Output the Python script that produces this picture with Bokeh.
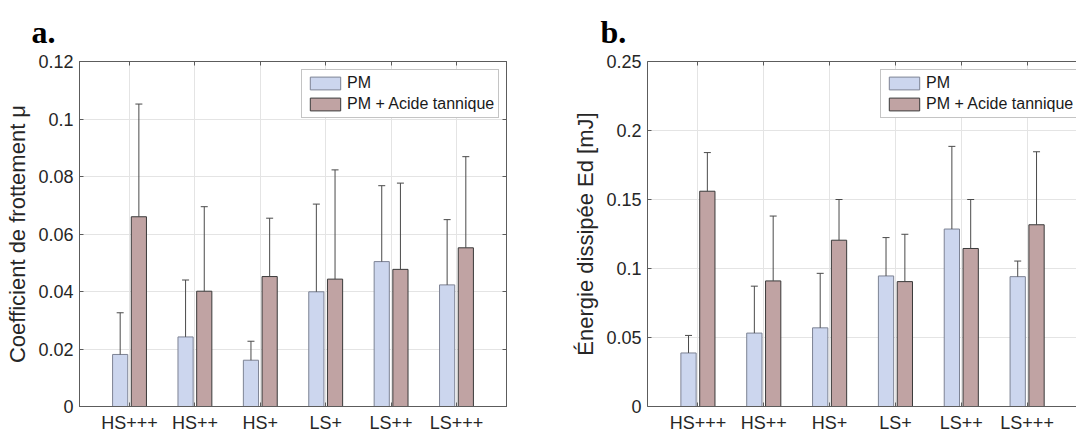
from bokeh.plotting import figure
from bokeh.layouts import row
from bokeh.models import (ColumnDataSource, Whisker, TeeHead, FixedTicker, LinearAxis,
                          Legend, LegendItem, Range1d)
from bokeh.embed import file_html
from bokeh.resources import INLINE

# ---------------- data ----------------
categories = ["HS+++", "HS++", "HS+", "LS+", "LS++", "LS+++"]
series_labels = ["PM", "PM + Acide tannique"]

# panel a: friction coefficient (bar value, top of error bar)
mu_pm = [0.0181, 0.0242, 0.0161, 0.0399, 0.0504, 0.0423]
mu_pm_top = [0.0326, 0.0440, 0.0227, 0.0704, 0.0768, 0.0650]
mu_at = [0.0660, 0.0401, 0.0452, 0.0443, 0.0477, 0.0552]
mu_at_top = [0.1052, 0.0695, 0.0655, 0.0823, 0.0777, 0.0869]

# panel b: dissipated energy (bar value, top of error bar)
ed_pm = [0.0388, 0.0532, 0.0570, 0.0946, 0.1286, 0.0941]
ed_pm_top = [0.0515, 0.0872, 0.0965, 0.1224, 0.1885, 0.1054]
ed_at = [0.1560, 0.0910, 0.1205, 0.0905, 0.1145, 0.1317]
ed_at_top = [0.1840, 0.1380, 0.1500, 0.1248, 0.1500, 0.1846]

mu_ticks = [0, 0.02, 0.04, 0.06, 0.08, 0.1, 0.12]
mu_tick_labels = ["0", "0.02", "0.04", "0.06", "0.08", "0.1", "0.12"]
ed_ticks = [0, 0.05, 0.1, 0.15, 0.2, 0.25]
ed_tick_labels = ["0", "0.05", "0.1", "0.15", "0.2", "0.25"]

# ---------------- style ----------------
FONT = "Liberation Sans"
TXT = "#262626"
AXC = "#5c5c5c"
GRID = "#e4e4e4"
BLUE = "#ccd6ee"
RED = "#c0a3a3"
BLUE_EDGE = "#7d8394"
RED_EDGE = "#3a3a3a"
ERR = "#4a4a4a"
OFF = 0.143
BW = 0.232
H = 435


def make_panel(letter, ylabel, pm, pm_top, at, at_top, ticks, tick_labels, ymax,
               xmin, xmax, width, b_left, b_right, legend_x, title_offset, boxed):
    xs = list(range(1, len(categories) + 1))
    src = ColumnDataSource(dict(
        x_pm=[x - OFF for x in xs], x_at=[x + OFF for x in xs],
        pm=pm, pm_top=pm_top, at=at, at_top=at_top))

    p = figure(width=width, height=H, x_range=Range1d(xmin, xmax), y_range=Range1d(0, ymax),
               output_backend="svg", toolbar_location=None,
               min_border_left=b_left, min_border_right=b_right,
               min_border_top=61, min_border_bottom=27)
    p.outline_line_color = AXC if boxed else None
    p.outline_line_width = 1
    p.background_fill_color = "white"
    p.border_fill_color = "white"

    xt = FixedTicker(ticks=xs)
    yt = FixedTicker(ticks=ticks)

    # axes
    p.xaxis.ticker = xt
    p.yaxis.ticker = yt
    p.xaxis.major_label_overrides = {x: c for x, c in zip(xs, categories)}
    p.yaxis.major_label_overrides = {t: l for t, l in zip(ticks, tick_labels)}
    for ax in (p.xaxis[0], p.yaxis[0]):
        ax.axis_line_color = AXC
        ax.major_tick_line_color = AXC
        ax.major_tick_in = 4
        ax.major_tick_out = 0
        ax.minor_tick_line_color = None
        ax.major_label_text_font = FONT
        ax.major_label_text_font_size = "18px"
        ax.major_label_text_color = TXT
    p.xaxis.major_label_standoff = 6
    p.yaxis.major_label_standoff = 6
    p.yaxis.axis_label = ylabel
    p.yaxis.axis_label_text_font = FONT
    p.yaxis.axis_label_text_font_size = "22px"
    p.yaxis.axis_label_text_font_style = "normal"
    p.yaxis.axis_label_text_color = TXT
    p.yaxis.axis_label_standoff = 5

    top = LinearAxis(ticker=xt, axis_line_color=AXC, major_tick_line_color=AXC,
                     major_tick_in=4, major_tick_out=0, minor_tick_line_color=None,
                     major_label_text_font_size="0px", major_label_standoff=0,
                     axis_label_standoff=0)
    top.major_label_overrides = {x: "" for x in xs}
    p.add_layout(top, "above")
    if boxed:
        rt = LinearAxis(ticker=yt, axis_line_color=AXC, major_tick_line_color=AXC,
                        major_tick_in=4, major_tick_out=0, minor_tick_line_color=None,
                        major_label_text_font_size="0px", major_label_standoff=0,
                        axis_label_standoff=0)
        rt.major_label_overrides = {t: "" for t in ticks}
        p.add_layout(rt, "right")

    # grid
    p.xgrid.ticker = xt
    p.ygrid.ticker = yt
    p.xgrid.grid_line_color = GRID
    p.ygrid.grid_line_color = GRID

    # bars
    r1 = p.vbar(x="x_pm", top="pm", width=BW, source=src, fill_color=BLUE,
                line_color=BLUE_EDGE, line_width=1)
    r2 = p.vbar(x="x_at", top="at", width=BW, source=src, fill_color=RED,
                line_color=RED_EDGE, line_width=1)

    # error bars (upper only)
    for base, lo, hi in (("x_pm", "pm", "pm_top"), ("x_at", "at", "at_top")):
        w = Whisker(source=src, base=base, lower=lo, upper=hi, dimension="height",
                    line_color=ERR, line_width=1, level="glyph",
                    upper_head=TeeHead(size=7, line_color=ERR, line_width=1),
                    lower_head=None)
        p.add_layout(w)

    # legend
    leg = Legend(items=[LegendItem(label=series_labels[0], renderers=[r1]),
                        LegendItem(label=series_labels[1], renderers=[r2])],
                 location=(legend_x, 288), orientation="vertical",
                 glyph_width=38, glyph_height=16, label_height=18, label_width=40,
                 label_standoff=3, spacing=3, padding=4, margin=0,
                 label_text_font=FONT, label_text_font_size="16px", label_text_color="#1a1a1a",
                 border_line_color="#8a8a8a", border_line_width=1,
                 background_fill_color="white", background_fill_alpha=1.0)
    p.add_layout(leg, "center")

    # panel letter
    p.title.text = letter
    p.title.text_font = "Liberation Serif"
    p.title.text_font_style = "bold"
    p.title.text_font_size = "32px"
    p.title.text_line_height = 0.8
    p.title.text_color = "black"
    p.title.align = "left"
    p.title.offset = title_offset
    p.title.standoff = 23
    return p


pa = make_panel("a.", "Coefficient de frottement \u03bc", mu_pm, mu_pm_top, mu_at, mu_at_top,
                mu_ticks, mu_tick_labels, 0.12, 0.235, 6.765, 540, 79, 34, 222, -48, True)
pb = make_panel("b.", "\u00c9nergie dissip\u00e9e Ed [mJ]", ed_pm, ed_pm_top, ed_at, ed_at_top,
                ed_ticks, ed_tick_labels, 0.25, 0.234, 6.75, 536, 107, 0, 233, -47, False)

layout = row(pa, pb, spacing=0)
open("out.html", "w").write(file_html(layout, INLINE))
